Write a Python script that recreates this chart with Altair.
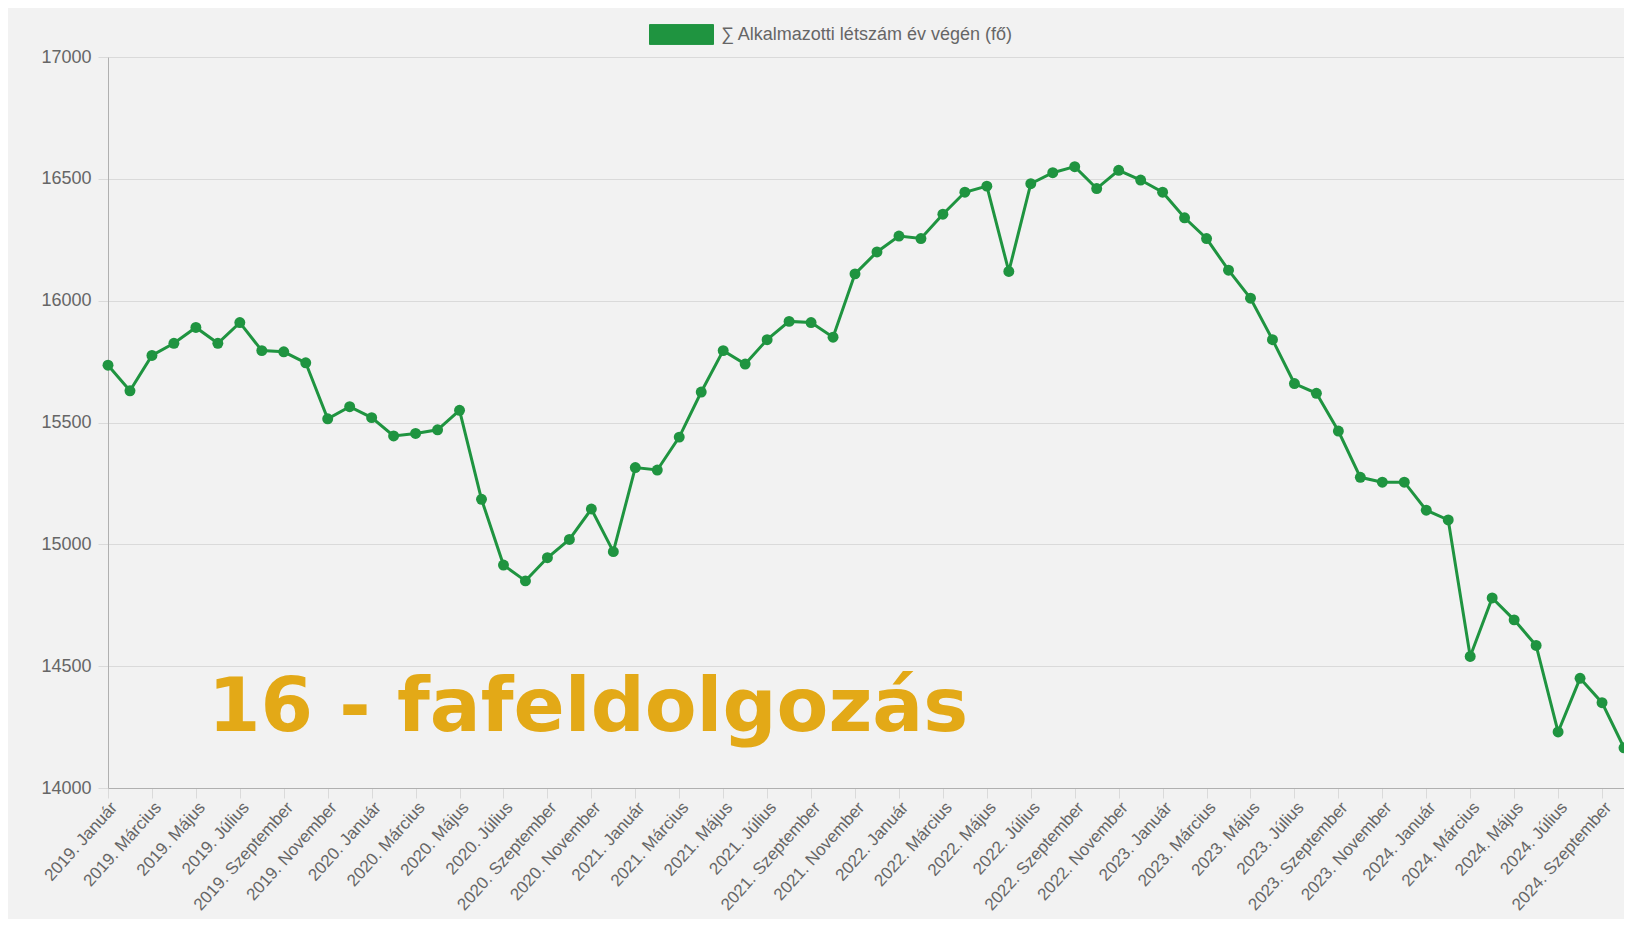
import altair as alt
import pandas as pd

years = [2019, 2020, 2021, 2022, 2023, 2024]
months = ["Január", "Február", "Március", "Április", "Május", "Június",
          "Július", "Augusztus", "Szeptember", "Október", "November", "December"]
labels = [f"{y}. {m}" for y in years for m in months][:70]

values = [
    15735, 15630, 15775, 15825, 15890, 15825, 15910, 15795, 15790, 15745, 15515, 15565,
    15520, 15445, 15455, 15470, 15550, 15185, 14915, 14850, 14945, 15020, 15145, 14970,
    15315, 15305, 15440, 15625, 15795, 15740, 15840, 15915, 15910, 15850, 16110, 16200,
    16265, 16255, 16355, 16445, 16470, 16120, 16480, 16525, 16550, 16460, 16535, 16495,
    16445, 16340, 16255, 16125, 16010, 15840, 15660, 15620, 15465, 15275, 15255, 15255,
    15140, 15100, 14540, 14780, 14690, 14585, 14230, 14450, 14350, 14165,
]

series_name = "∑ Alkalmazotti létszám év végén (fő)"
title_text = "16 - fafeldolgozás"
y_ticks = [14000, 14500, 15000, 15500, 16000, 16500, 17000]
x_tick_labels = labels[::2]

GREEN = "#1f9440"
GOLD = "#e3a917"
FONT = "Liberation Sans"

df = pd.DataFrame({"label": labels, "value": values, "series": [series_name] * len(labels)})

x_enc = alt.X(
    "label:O",
    sort=labels,
    scale=alt.Scale(type="point", padding=0, domain=labels),
    axis=alt.Axis(values=x_tick_labels, title=None, labelAngle=312,
                  labelAlign="right", labelBaseline="top", labelFontSize=17,
                  tickSize=10, labelPadding=1),
)
y_enc = alt.Y(
    "value:Q",
    scale=alt.Scale(domain=[14000, 17000], nice=False, zero=False),
    axis=alt.Axis(values=y_ticks, title=None, tickSize=10, labelPadding=7, format="d"),
)
color_enc = alt.Color(
    "series:N",
    scale=alt.Scale(range=[GREEN]),
    legend=alt.Legend(
        title=None, orient="none", legendX=541, legendY=-55,
        symbolType="M-1,-0.31H1V0.31H-1Z", symbolSize=4096,
        symbolFillColor="#22963f", symbolStrokeColor="#1a8a3a",
        symbolStrokeWidth=1, symbolOpacity=1, labelLimit=0,
        labelFont=FONT, labelFontSize=18, labelColor="#666666", labelOffset=7,
    ),
)

base = alt.Chart(df)
line = base.mark_line(strokeWidth=3, color=GREEN).encode(x=x_enc, y=y_enc, color=color_enc)
points = base.mark_point(filled=True, size=120, opacity=1, color=GREEN).encode(
    x=x_enc, y=y_enc, color=color_enc)

annot = alt.Chart(pd.DataFrame({"t": [title_text]})).mark_text(
    font="DejaVu Sans", fontWeight="bold", fontSize=75.5, color=GOLD,
    align="left", baseline="alphabetic",
).encode(text="t:N", x=alt.value(100), y=alt.value(674))

chart = alt.layer(line, points, annot).properties(
    width=1516, height=731,
    autosize=alt.AutoSizeParams(type="none"),
    padding={"left": 100, "top": 49, "right": 0, "bottom": 131},
    background="#f2f2f2",
).configure_view(stroke=None).configure_axis(
    labelFont=FONT, labelFontSize=18, labelColor="#666666",
    gridColor="#dadada", gridWidth=1, tickColor="#dadada",
    domainColor="#b0b0b0", domainWidth=1,
)

chart.save("out.html", embed_options={"renderer": "svg", "actions": False})
